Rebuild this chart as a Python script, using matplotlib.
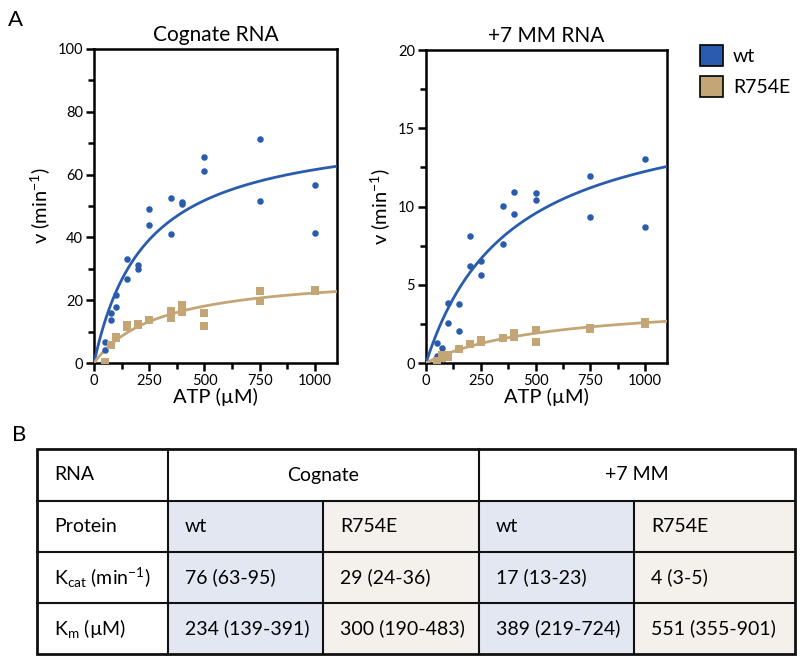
import numpy as np
import matplotlib
matplotlib.use("Agg")
import matplotlib.pyplot as plt
import matplotlib.patches as mpatches
from matplotlib.ticker import MultipleLocator

plt.rcParams["font.family"] = ["Lato", "DejaVu Sans"]
plt.rcParams["mathtext.fontset"] = "custom"
plt.rcParams["mathtext.rm"] = "Lato"
plt.rcParams["mathtext.it"] = "Lato:italic"

BLUE = "#2a5cae"
TAN = "#c4a676"
BLUE_BG = "#e3e7f2"
TAN_BG = "#f4f1ec"

# ── 数据 ─────────────────────────────────────────────
cog_wt_x = [50, 50, 75, 75, 100, 100, 150, 150, 200, 200, 250, 250,
            350, 350, 400, 400, 500, 500, 750, 750, 1000, 1000]
cog_wt_y = [4.0, 6.6, 16.0, 13.8, 21.5, 17.9, 33.2, 26.7, 31.3, 30.0, 48.9, 44.0,
            52.4, 41.1, 51.2, 50.7, 65.6, 61.0, 71.2, 51.5, 56.6, 41.5]
cog_mut_x = [50, 50, 75, 100, 100, 150, 150, 200, 200, 250, 250,
             350, 350, 400, 400, 500, 500, 750, 750, 1000, 1000]
cog_mut_y = [0.2, 0.0, 5.6, 8.0, 8.3, 12.2, 11.5, 12.4, 12.0, 13.8, 13.6,
             16.5, 14.4, 18.6, 16.3, 15.9, 11.7, 22.9, 19.8, 23.4, 23.0]

mm_wt_x = [50, 50, 75, 75, 100, 100, 150, 150, 200, 200, 250, 250,
           350, 350, 400, 400, 500, 500, 750, 750, 1000, 1000]
mm_wt_y = [1.28, 0.43, 0.96, 0.64, 3.84, 2.58, 3.75, 2.05, 8.12, 6.18, 6.5, 5.6,
           10.04, 7.63, 10.92, 9.51, 10.85, 10.4, 11.98, 9.36, 13.03, 8.66]
mm_mut_x = [50, 50, 75, 75, 100, 100, 150, 150, 200, 200, 250, 250,
            350, 350, 400, 400, 500, 500, 750, 750, 1000, 1000]
mm_mut_y = [0.15, 0.05, 0.3, 0.5, 0.5, 0.4, 0.92, 0.88, 1.24, 1.2, 1.45, 1.35,
            1.62, 1.6, 1.94, 1.66, 2.13, 1.34, 2.24, 2.2, 2.6, 2.52]

# Michaelis-Menten 拟合参数 (表格)
kcat = {"cog_wt": 76, "cog_mut": 29, "mm_wt": 17, "mm_mut": 4}
km = {"cog_wt": 234, "cog_mut": 300, "mm_wt": 389, "mm_mut": 551}

row_labels = ["RNA", "Protein", r"K$_{\mathregular{cat}}$ (min$^{\mathregular{-1}}$)",
              r"K$_{\mathregular{m}}$ (µM)"]
proteins = ["wt", "R754E", "wt", "R754E"]
kcat_txt = ["76 (63-95)", "29 (24-36)", "17 (13-23)", "4 (3-5)"]
km_txt = ["234 (139-391)", "300 (190-483)", "389 (219-724)", "551 (355-901)"]

W, H = 800, 659
fig = plt.figure(figsize=(W / 100, H / 100), dpi=100)


def px_axes(x0, y0, x1, y1):
    return fig.add_axes([x0 / W, 1 - y1 / H, (x1 - x0) / W, (y1 - y0) / H])


def panel(ax, wt_x, wt_y, mu_x, mu_y, kw, km_w, km_m, kc_m, ymax, major, minor, title):
    xs = np.linspace(0, 1100, 300)
    ax.plot(xs, kw * xs / (km_w + xs), color=BLUE, lw=2.0, zorder=3)
    ax.plot(xs, kc_m * xs / (km_m + xs), color=TAN, lw=2.0, zorder=3)
    ax.scatter(wt_x, wt_y, s=22, color=BLUE, zorder=4, linewidths=0)
    ax.scatter(mu_x, mu_y, s=30, marker="s", color=TAN, zorder=4, linewidths=0)
    ax.set_xlim(0, 1100)
    ax.set_ylim(0, ymax)
    ax.xaxis.set_minor_locator(MultipleLocator(125))
    ax.set_xticks([0, 250, 500, 750, 1000])
    ax.yaxis.set_major_locator(MultipleLocator(major))
    ax.yaxis.set_minor_locator(MultipleLocator(minor))
    for s in ax.spines.values():
        s.set_linewidth(1.8)
    ax.tick_params(which="major", length=6, width=1.8, labelsize=10.5, pad=2)
    ax.tick_params(which="minor", length=4, width=1.8)
    ax.set_xlabel("ATP (µM)", fontsize=14.5, labelpad=0)
    ax.set_ylabel(r"v (min$^{\mathregular{-1}}$)", fontsize=14.5, labelpad=4)
    ax.set_title(title, fontsize=15, pad=6)


ax1 = px_axes(94, 49, 337, 363)
panel(ax1, cog_wt_x, cog_wt_y, cog_mut_x, cog_mut_y,
      kcat["cog_wt"], km["cog_wt"], km["cog_mut"], kcat["cog_mut"],
      100, 20, 10, "Cognate RNA")

ax2 = px_axes(426, 50, 667, 363)
panel(ax2, mm_wt_x, mm_wt_y, mm_mut_x, mm_mut_y,
      kcat["mm_wt"], km["mm_wt"], km["mm_mut"], kcat["mm_mut"],
      20, 5, 2.5, "+7 MM RNA")

# 图例
handles = [mpatches.Patch(facecolor=BLUE, edgecolor="black", lw=1.2, label="wt"),
           mpatches.Patch(facecolor=TAN, edgecolor="black", lw=1.2, label="R754E")]
fig.legend(handles=handles, loc="upper left", bbox_to_anchor=(700 / W, 1 - 45 / H),
           frameon=False, fontsize=14, handlelength=1.2, handleheight=1.3,
           handletextpad=0.5, labelspacing=0.5, borderpad=0, borderaxespad=0)

fig.text(8 / W, 1 - 20 / H, "A", fontsize=16, va="center")
fig.text(12 / W, 1 - 435 / H, "B", fontsize=16, va="center")

# ── 表格 ─────────────────────────────────────────────
cols = [37, 168, 323, 479, 634, 795]
rows = [449, 501, 552, 603, 654]
tax = px_axes(0, 0, W, H)
tax.set_xlim(0, W)
tax.set_ylim(H, 0)
tax.axis("off")

for j in range(4):
    bg = BLUE_BG if j % 2 == 0 else TAN_BG
    tax.add_patch(mpatches.Rectangle((cols[j + 1], rows[1]), cols[j + 2] - cols[j + 1],
                                     rows[4] - rows[1], facecolor=bg, edgecolor="none"))
lw = 1.5
for y in rows[1:-1]:
    tax.plot([cols[0], cols[-1]], [y, y], color="#111", lw=lw)
for x in cols[1:-1]:
    y0 = rows[0] if x in (cols[1], cols[3]) else rows[1]
    tax.plot([x, x], [y0, rows[-1]], color="#111", lw=lw)
tax.add_patch(mpatches.Rectangle((cols[0], rows[0]), cols[-1] - cols[0], rows[-1] - rows[0],
                                 fill=False, edgecolor="#111", lw=2))

fs = 14
for i, lab in enumerate(row_labels):
    tax.text(cols[0] + 17, (rows[i] + rows[i + 1]) / 2, lab, fontsize=fs, va="center")
tax.text((cols[1] + cols[3]) / 2, (rows[0] + rows[1]) / 2, "Cognate", fontsize=fs,
         va="center", ha="center")
tax.text((cols[3] + cols[5]) / 2, (rows[0] + rows[1]) / 2, "+7 MM", fontsize=fs,
         va="center", ha="center")
for j in range(4):
    for i, vals in enumerate([proteins, kcat_txt, km_txt]):
        tax.text(cols[j + 1] + 17, (rows[i + 1] + rows[i + 2]) / 2, vals[j],
                 fontsize=fs, va="center")

fig.savefig("out.png", dpi=100)
